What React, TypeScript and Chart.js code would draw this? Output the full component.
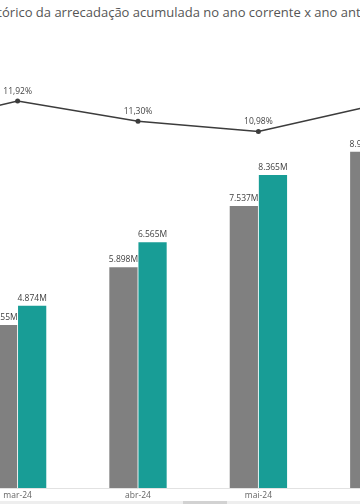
import React, { useEffect, useRef } from "react";
import { Chart, registerables } from "chart.js";

Chart.register(...registerables);

const categories = ["fev-24", "mar-24", "abr-24", "mai-24", "jun-24"];
const anoAnterior: (number | null)[] = [null, 4.355, 5.898, 7.537, 8.987];
const anoCorrente: (number | null)[] = [null, 4.874, 6.565, 8.365, null];
const variacao: number[] = [11.05, 11.92, 11.3, 10.98, 11.82];
const titlePrefix = "Hist";
const titleRest = "órico da arrecadação acumulada no ano corrente x ano anterior";

const fmtM = (v: number) => v.toFixed(3) + "M";
const fmtP = (v: number) => v.toFixed(2).replace(".", ",") + "%";

const labelsPlugin = {
  id: "valueLabels",
  afterDatasetsDraw(chart: any) {
    const ctx = chart.ctx;
    ctx.save();
    ctx.font = '8.5px "Open Sans"';
    ctx.textAlign = "center";
    ctx.textBaseline = "middle";
    chart.data.datasets.forEach((ds: any, i: number) => {
      const meta = chart.getDatasetMeta(i);
      meta.data.forEach((el: any, j: number) => {
        const v = ds.data[j];
        if (v == null) return;
        if (ds.type === "line") {
          ctx.fillStyle = "#444444";
          ctx.fillText(fmtP(v), el.x, el.y - 9.5);
        } else {
          ctx.fillStyle = "#404040";
          ctx.fillText(fmtM(v), el.x, el.y - 7.5);
        }
      });
    });
    ctx.restore();
  },
};

export default function App() {
  const canvasRef = useRef<HTMLCanvasElement | null>(null);
  const prefixRef = useRef<HTMLSpanElement | null>(null);
  const titleRef = useRef<HTMLDivElement | null>(null);

  useEffect(() => {
    if (prefixRef.current && titleRef.current) {
      const w = prefixRef.current.getBoundingClientRect().width;
      titleRef.current.style.left = 2 - w + "px";
    }
    const canvas = canvasRef.current;
    if (!canvas) return;
    const chart = new Chart(canvas, {
      type: "bar",
      data: {
        labels: categories,
        datasets: [
          {
            type: "line",
            label: "Variação",
            data: variacao,
            yAxisID: "y2",
            borderColor: "#3c3c3c",
            backgroundColor: "#3c3c3c",
            borderWidth: 1.5,
            pointRadius: 2.5,
            pointBorderWidth: 0,
            pointBackgroundColor: "#3c3c3c",
            tension: 0,
            order: 0,
          } as any,
          {
            type: "bar",
            label: "Ano anterior",
            data: anoAnterior,
            yAxisID: "y",
            backgroundColor: "#808080",
            borderWidth: 0,
            barPercentage: 0.97,
            categoryPercentage: 0.4836,
            order: 1,
          } as any,
          {
            type: "bar",
            label: "Ano corrente",
            data: anoCorrente,
            yAxisID: "y",
            backgroundColor: "#189d96",
            borderWidth: 0,
            barPercentage: 0.97,
            categoryPercentage: 0.4836,
            order: 1,
          } as any,
        ],
      },
      options: {
        responsive: false,
        animation: false,
        layout: { padding: { top: 39, left: 0, right: 0, bottom: 0 } },
        plugins: {
          legend: { display: false },
          tooltip: { enabled: false },
          title: { display: false },
        },
        scales: {
          x: {
            offset: true,
            grid: { display: false, drawTicks: false, tickLength: 0 },
            border: { display: true, color: "#e2e2e2", width: 1 },
            ticks: {
              color: "#666666",
              font: { family: "Open Sans", size: 8.5 },
              padding: 2,
              maxRotation: 0,
              autoSkip: false,
            },
            afterFit: (s: any) => {
              s.height = 16;
            },
          },
          y: { display: false, min: 0, max: 12 },
          y2: { display: false, min: 0, max: 13.83, position: "right" },
        },
      } as any,
      plugins: [labelsPlugin],
    });
    return () => chart.destroy();
  }, []);

  return (
    <div
      style={{
        position: "fixed",
        left: 0,
        top: 0,
        width: 360,
        height: 504,
        overflow: "hidden",
        background: "#ffffff",
      }}
    >
      <div
        ref={titleRef}
        style={{
          position: "absolute",
          top: 3,
          left: -20,
          whiteSpace: "nowrap",
          fontFamily: '"Open Sans"',
          fontSize: 13,
          lineHeight: "18px",
          color: "#555555",
        }}
      >
        <span ref={prefixRef}>{titlePrefix}</span>
        <span>{titleRest}</span>
      </div>
      <canvas
        ref={canvasRef}
        width={610}
        height={504}
        style={{ position: "absolute", left: -167, top: 0, width: 610, height: 504 }}
      />
      <div
        style={{
          position: "absolute",
          left: 0,
          top: 501,
          width: 360,
          height: 3,
          background: "#eeeeee",
        }}
      />
      <div
        style={{
          position: "absolute",
          left: 183,
          top: 501,
          width: 44,
          height: 3,
          background: "#d2d2d2",
        }}
      />
    </div>
  );
}
